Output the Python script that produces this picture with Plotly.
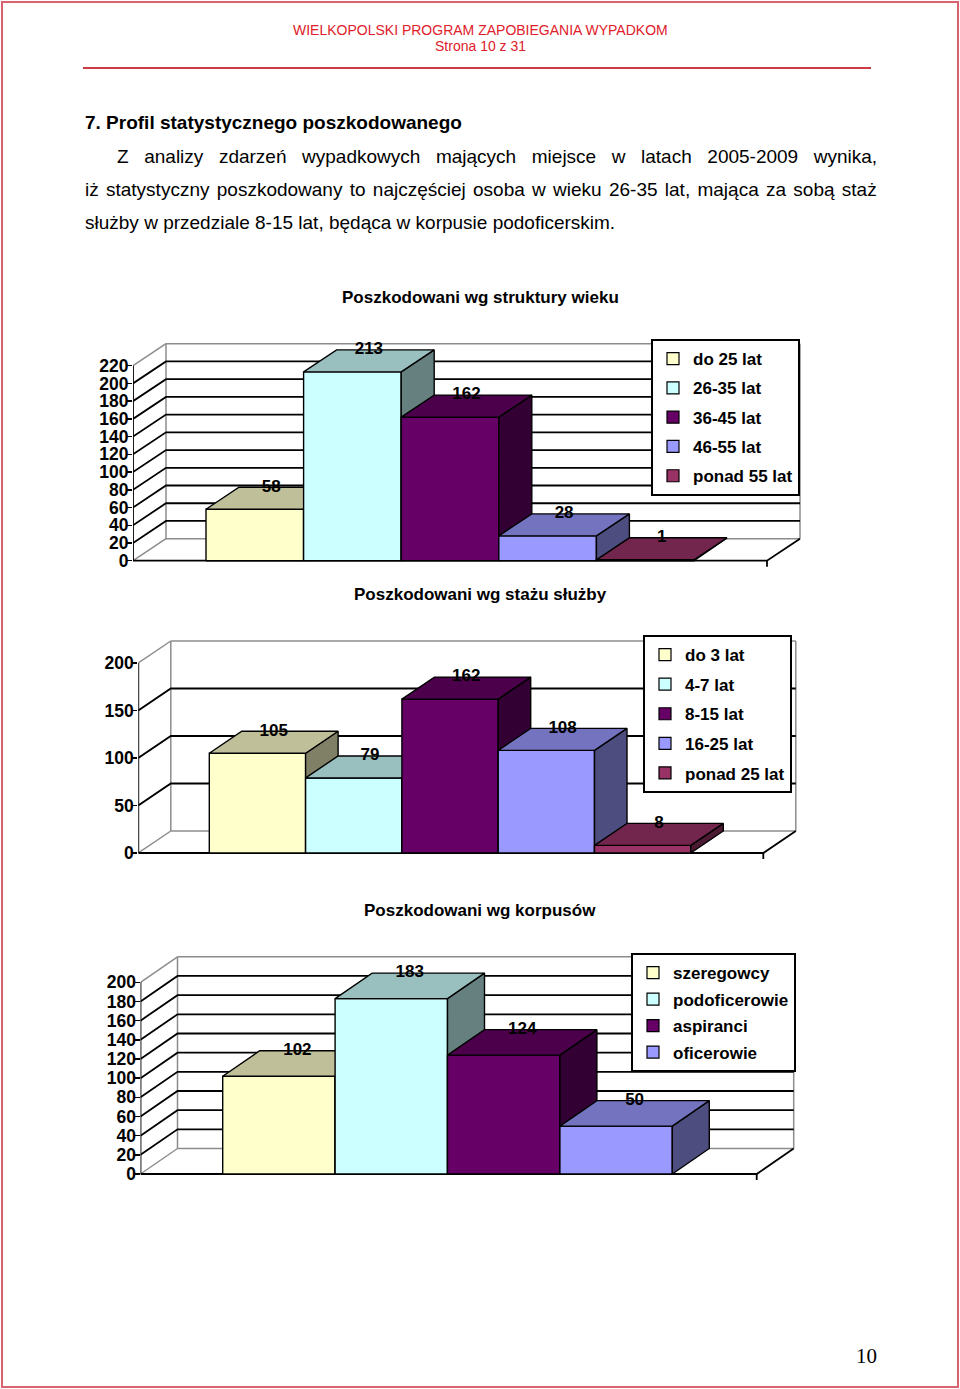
import plotly.graph_objects as go

# page size (browser window)
W, H = 960, 1389
OX, OY = 0, 0
FW, FH = W - OX, H - OY

# ---------------- data ----------------
age_categories = ["do 25 lat", "26-35 lat", "36-45 lat", "46-55 lat", "ponad 55 lat"]
age_values = [58, 213, 162, 28, 1]
age_ticks = [0, 20, 40, 60, 80, 100, 120, 140, 160, 180, 200, 220]

service_categories = ["do 3 lat", "4-7 lat", "8-15 lat", "16-25 lat", "ponad 25 lat"]
service_values = [105, 79, 162, 108, 8]
service_ticks = [0, 50, 100, 150, 200]

corps_categories = ["szeregowcy", "podoficerowie", "aspiranci", "oficerowie"]
corps_values = [102, 183, 124, 50]
corps_ticks = [0, 20, 40, 60, 80, 100, 120, 140, 160, 180, 200]

chart_titles = ["Poszkodowani wg struktury wieku",
                "Poszkodowani wg stażu służby",
                "Poszkodowani wg korpusów"]

header_lines = ["WIELKOPOLSKI PROGRAM ZAPOBIEGANIA WYPADKOM", "Strona 10 z 31"]
heading = "7. Profil statystycznego poszkodowanego"
paragraph = ["Z analizy zdarzeń wypadkowych mających miejsce w latach 2005-2009 wynika,",
             "iż statystyczny poszkodowany to najczęściej osoba w wieku 26-35 lat, mająca za sobą staż",
             "służby w przedziale 8-15 lat, będąca w korpusie podoficerskim."]
page_number = "10"

# ---------------- styles ----------------
FRONT = ["#FFFFCC", "#CCFFFF", "#660066", "#9999FF", "#993366"]
TOP = ["#BFBF99", "#99BFBF", "#4C004C", "#7373BF", "#73264D"]
SIDE = ["#808066", "#668080", "#330033", "#4D4D80", "#4D1A33"]
SANS = "Arial, Liberation Sans, sans-serif"
SERIF = "Times New Roman, Liberation Serif, serif"
RED = "#e0202a"
GRAY = "#8c8c8c"

# pixel geometry of each chart on the page (layout only)
GEOM = [
    dict(ax=133, zero=560.7, ppu=195 / 220, bar0=206, barw=97.6, floor_r=767, ddx=33, ddy=22,
         right=815, title_y=297, leg_r=800, leg_t=339, leg_gap=4.2),
    dict(ax=138.3, zero=853, ppu=0.95, bar0=209.3, barw=96.3, floor_r=763.3, ddx=32.5, ddy=22,
         right=815, title_y=594, leg_r=792, leg_t=635, leg_gap=4.5),
    dict(ax=140.5, zero=1174, ppu=191.7 / 200, bar0=222.7, barw=112.4, floor_r=756.7, ddx=37, ddy=25.5,
         right=815, title_y=910, leg_r=796, leg_t=953, leg_gap=1.4),
]

charts = [
    (age_categories, age_values, age_ticks),
    (service_categories, service_values, service_ticks),
    (corps_categories, corps_values, corps_ticks),
]


def PX(px):
    return (px - OX) / FW


def PY(py):
    return 1 - (py - OY) / FH


fig = go.Figure()
annotations = []
layout_axes = {}


def seg_trace(xs, ys, color, width, xa, ya):
    return go.Scatter(x=xs, y=ys, mode="lines", line=dict(color=color, width=width),
                      xaxis=xa, yaxis=ya, showlegend=False, hoverinfo="skip")


def poly(pts, fill, xa, ya):
    xs = [p[0] for p in pts] + [pts[0][0]]
    ys = [p[1] for p in pts] + [pts[0][1]]
    return go.Scatter(x=xs, y=ys, mode="lines", fill="toself", fillcolor=fill,
                      line=dict(color="black", width=1.4), xaxis=xa, yaxis=ya,
                      showlegend=False, hoverinfo="skip")


for k, ((cats, vals, ticks), g) in enumerate(zip(charts, GEOM), start=1):
    xa = "x" if k == 1 else f"x{k}"
    ya = "y" if k == 1 else f"y{k}"
    leg = "legend" if k == 1 else f"legend{k}"
    ymax = ticks[-1]
    xl = (g["ax"] - g["bar0"]) / g["barw"]
    xr = (g["floor_r"] - g["bar0"]) / g["barw"]
    dx = g["ddx"] / g["barw"]
    dy = g["ddy"] / g["ppu"]

    py_b = g["zero"] + 12
    py_t = g["zero"] - ymax * g["ppu"] - g["ddy"] - 16
    layout_axes["xaxis" if k == 1 else f"xaxis{k}"] = dict(
        domain=[PX(g["ax"]), PX(g["right"])],
        range=[xl, (g["right"] - g["bar0"]) / g["barw"]],
        visible=False, anchor=ya, fixedrange=True)
    layout_axes["yaxis" if k == 1 else f"yaxis{k}"] = dict(
        domain=[PY(py_b), PY(py_t)],
        range=[-12 / g["ppu"], (g["zero"] - py_t) / g["ppu"]],
        anchor=xa, showgrid=False, zeroline=False, showline=False,
        tickmode="array", tickvals=ticks, ticktext=[str(t) for t in ticks],
        ticks="outside", ticklen=5, tickwidth=1.5, tickcolor="black",
        ticklabelstandoff=-5,
        tickfont=dict(family=SANS, size=17.5, color="black", weight="bold"),
        fixedrange=True)

    # gray wall edges
    gx, gy = [], []
    for (a, b) in [((xl + dx, dy), (xl + dx, ymax + dy)),
                   ((xl + dx, ymax + dy), (xr + dx, ymax + dy)),
                   ((xr + dx, dy), (xr + dx, ymax + dy)),
                   ((xl + dx, dy), (xr + dx, dy)),
                   ((xl, 0), (xl + dx, dy)),
                   ((xl, ymax), (xl + dx, ymax + dy))]:
        gx += [a[0], b[0], None]
        gy += [a[1], b[1], None]
    fig.add_trace(seg_trace(gx, gy, GRAY, 1.5, xa, ya))

    # black gridlines on back and side walls + floor + front axis
    bx, by = [], []
    for t in ticks[1:-1]:
        bx += [xl, xl + dx, xr + dx, None]
        by += [t, t + dy, t + dy, None]
    bx += [xl, xl, None, xl, xr, xr + dx, None, xr, xr, None]
    by += [0, ymax, None, 0, 0, dy, None, 0, -6 / g["ppu"], None]
    fig.add_trace(seg_trace(bx, by, "black", 1.8, xa, ya))

    # 3D bars, painted left to right
    for i, v in enumerate(vals):
        x0, x1 = i, i + 1
        fig.add_trace(poly([(x0, 0), (x1, 0), (x1, v), (x0, v)], FRONT[i], xa, ya))
        fig.add_trace(poly([(x1, 0), (x1 + dx, dy), (x1 + dx, v + dy), (x1, v)], SIDE[i], xa, ya))
        fig.add_trace(poly([(x0, v), (x1, v), (x1 + dx, v + dy), (x0 + dx, v + dy)], TOP[i], xa, ya))

    # value labels
    fig.add_trace(go.Scatter(
        x=[i + 0.5 + dx / 2 for i in range(len(vals))], y=[v + dy for v in vals],
        mode="text", text=[str(v) for v in vals], textposition="middle center",
        textfont=dict(family=SANS, size=17, color="black", weight="bold"),
        xaxis=xa, yaxis=ya, showlegend=False, hoverinfo="skip", cliponaxis=False))

    # legend entries
    for i, c in enumerate(cats):
        fig.add_trace(go.Bar(x=[None], y=[None], name=c, marker=dict(color=FRONT[i],
                             line=dict(color="black", width=1.2)),
                             xaxis=xa, yaxis=ya, legend=leg, legendgroup=f"{k}-{i}",
                             showlegend=True, hoverinfo="skip"))

    layout_axes[leg] = dict(
        x=PX(g["leg_r"]), y=PY(g["leg_t"]), xanchor="right", yanchor="top",
        bgcolor="white", bordercolor="black", borderwidth=2,
        font=dict(family=SANS, size=17, color="black", weight="bold"),
        tracegroupgap=g["leg_gap"], traceorder="grouped", itemclick=False, itemdoubleclick=False)

    annotations.append(dict(x=PX(480), y=PY(g["title_y"]), xref="paper", yref="paper",
                            text=chart_titles[k - 1], showarrow=False, xanchor="center", yanchor="middle",
                            font=dict(family=SANS, size=17, color="black", weight="bold")))

# page text
for txt, py in zip(header_lines, [30, 46]):
    annotations.append(dict(x=PX(480), y=PY(py), xref="paper", yref="paper", showarrow=False,
                            xanchor="center", yanchor="middle", text=txt,
                            font=dict(family=SANS, size=14, color=RED)))

annotations.append(dict(x=PX(83), y=PY(123), xref="paper", yref="paper", showarrow=False,
                        xanchor="left", yanchor="middle", text=heading,
                        font=dict(family=SANS, size=19, color="black", weight="bold")))
para_pos = [(115, 156, 10.3), (83, 189, 2.0), (83, 222, 0)]
for line, (px, py, ws) in zip(paragraph, para_pos):
    txt = f'<span style="word-spacing:{ws}px">{line}</span>' if ws else line
    annotations.append(dict(x=PX(px), y=PY(py), xref="paper", yref="paper", showarrow=False,
                            xanchor="left", yanchor="middle", text=txt,
                            font=dict(family=SANS, size=19, color="black")))
annotations.append(dict(x=PX(866), y=PY(1356), xref="paper", yref="paper", showarrow=False,
                        xanchor="center", yanchor="middle", text=page_number,
                        font=dict(family=SERIF, size=21, color="black")))

shapes = [
    dict(type="rect", xref="paper", yref="paper", x0=PX(2), x1=PX(958), y0=PY(1387), y1=PY(2),
         line=dict(color="#d9646e", width=2)),
    dict(type="line", xref="paper", yref="paper", x0=PX(83), x1=PX(871), y0=PY(68), y1=PY(68),
         line=dict(color="#cc3c46", width=2.2)),
]

fig.update_layout(
    width=FW, height=FH, margin=dict(l=0, r=0, t=0, b=0, pad=0),
    paper_bgcolor="white", plot_bgcolor="rgba(0,0,0,0)",
    showlegend=True, annotations=annotations, shapes=shapes, barmode="overlay",
    **layout_axes)

fig.write_html("out.html", config={"displayModeBar": False, "staticPlot": True},
               post_script="document.body.style.margin='0px';")
